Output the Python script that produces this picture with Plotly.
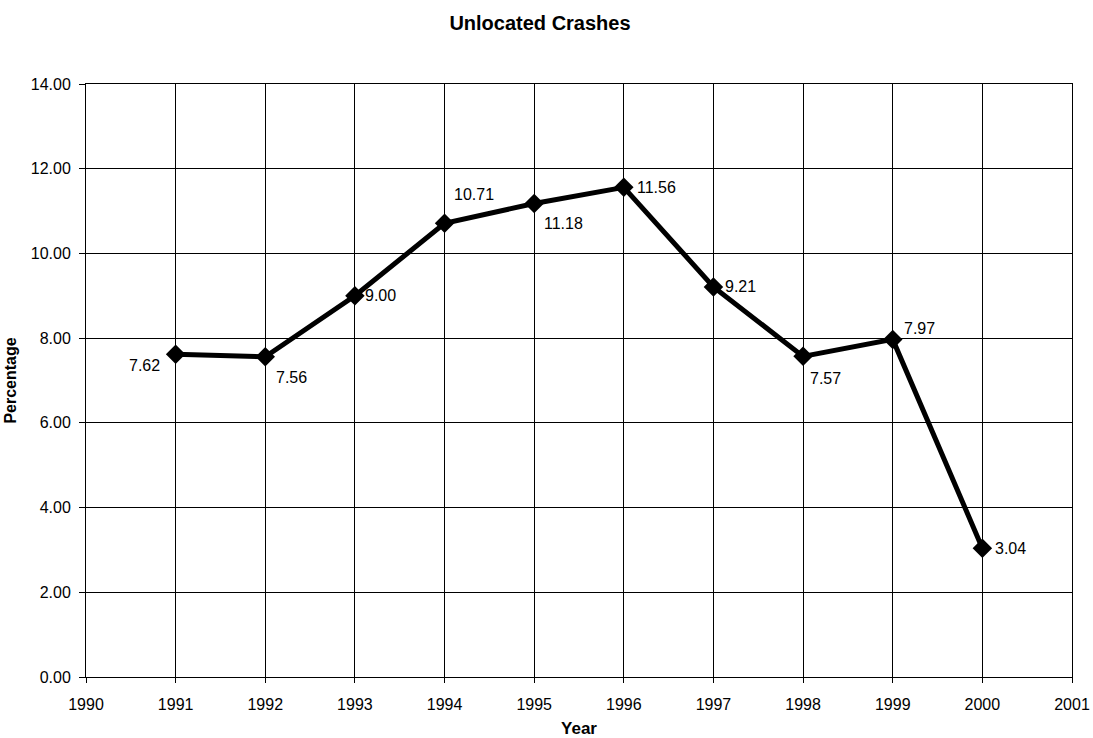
import plotly.graph_objects as go

years = [1991, 1992, 1993, 1994, 1995, 1996, 1997, 1998, 1999, 2000]
percent = [7.62, 7.56, 9.00, 10.71, 11.18, 11.56, 9.21, 7.57, 7.97, 3.04]
labels = ["7.62", "7.56", "9.00", "10.71", "11.18", "11.56", "9.21", "7.57", "7.97", "3.04"]

# label offsets (pixels) and anchors
label_xanchor = ["right", "left", "left", "left", "left", "left", "left", "left", "left", "left"]
label_xshift = [-14, 9, 8, 7, 8, 11, 10, 5, 9, 11]
label_yshift = [-11, -21, 0, 29, -20, 0, 0, -22, 11, 0]

FONT = "Liberation Sans, Arial, sans-serif"

fig = go.Figure()
fig.add_trace(go.Scatter(
    x=years, y=percent, mode="lines+markers",
    line=dict(color="black", width=5),
    marker=dict(symbol="diamond", size=15, color="black"),
    showlegend=False, hoverinfo="x+y",
))

for x, y, t, xa, xs, ys in zip(years, percent, labels, label_xanchor, label_xshift, label_yshift):
    fig.add_annotation(x=x, y=y, text=t, showarrow=False, xanchor=xa, yanchor="middle",
                       xshift=xs, yshift=ys, font=dict(family=FONT, size=16, color="black"))

fig.update_layout(
    width=1093, height=738,
    margin=dict(l=86, r=21, t=84, b=61, autoexpand=False),
    paper_bgcolor="white", plot_bgcolor="white",
    font=dict(family=FONT, size=16, color="black"),
    title=dict(text="<b>Unlocated Crashes</b>", x=540 / 1093, xanchor="center", y=1 - 23 / 738, yanchor="middle",
               font=dict(family=FONT, size=20, color="black")),
    xaxis=dict(
        range=[1990, 2001], tick0=1990, dtick=1, tickmode="linear",
        showgrid=True, gridcolor="black", gridwidth=1,
        showline=True, linecolor="black", linewidth=1, mirror=True,
        ticks="outside", ticklen=5, tickcolor="black", ticklabelstandoff=8,
        tickfont=dict(family=FONT, size=16, color="black"),
        zeroline=False, automargin=False,
        title=dict(text="<b>Year</b>", font=dict(family=FONT, size=17), standoff=10),
    ),
    yaxis=dict(
        range=[0, 14], tick0=0, dtick=2, tickmode="linear", tickformat=".2f",
        showgrid=True, gridcolor="black", gridwidth=1,
        showline=True, linecolor="black", linewidth=1, mirror=True,
        ticks="outside", ticklen=6, tickcolor="black", ticklabelstandoff=5,
        tickfont=dict(family=FONT, size=16, color="black"),
        zeroline=False, automargin=False,
        title=dict(text="<b>Percentage</b>", font=dict(family=FONT, size=16), standoff=10),
    ),
)

fig.write_html("out.html")
